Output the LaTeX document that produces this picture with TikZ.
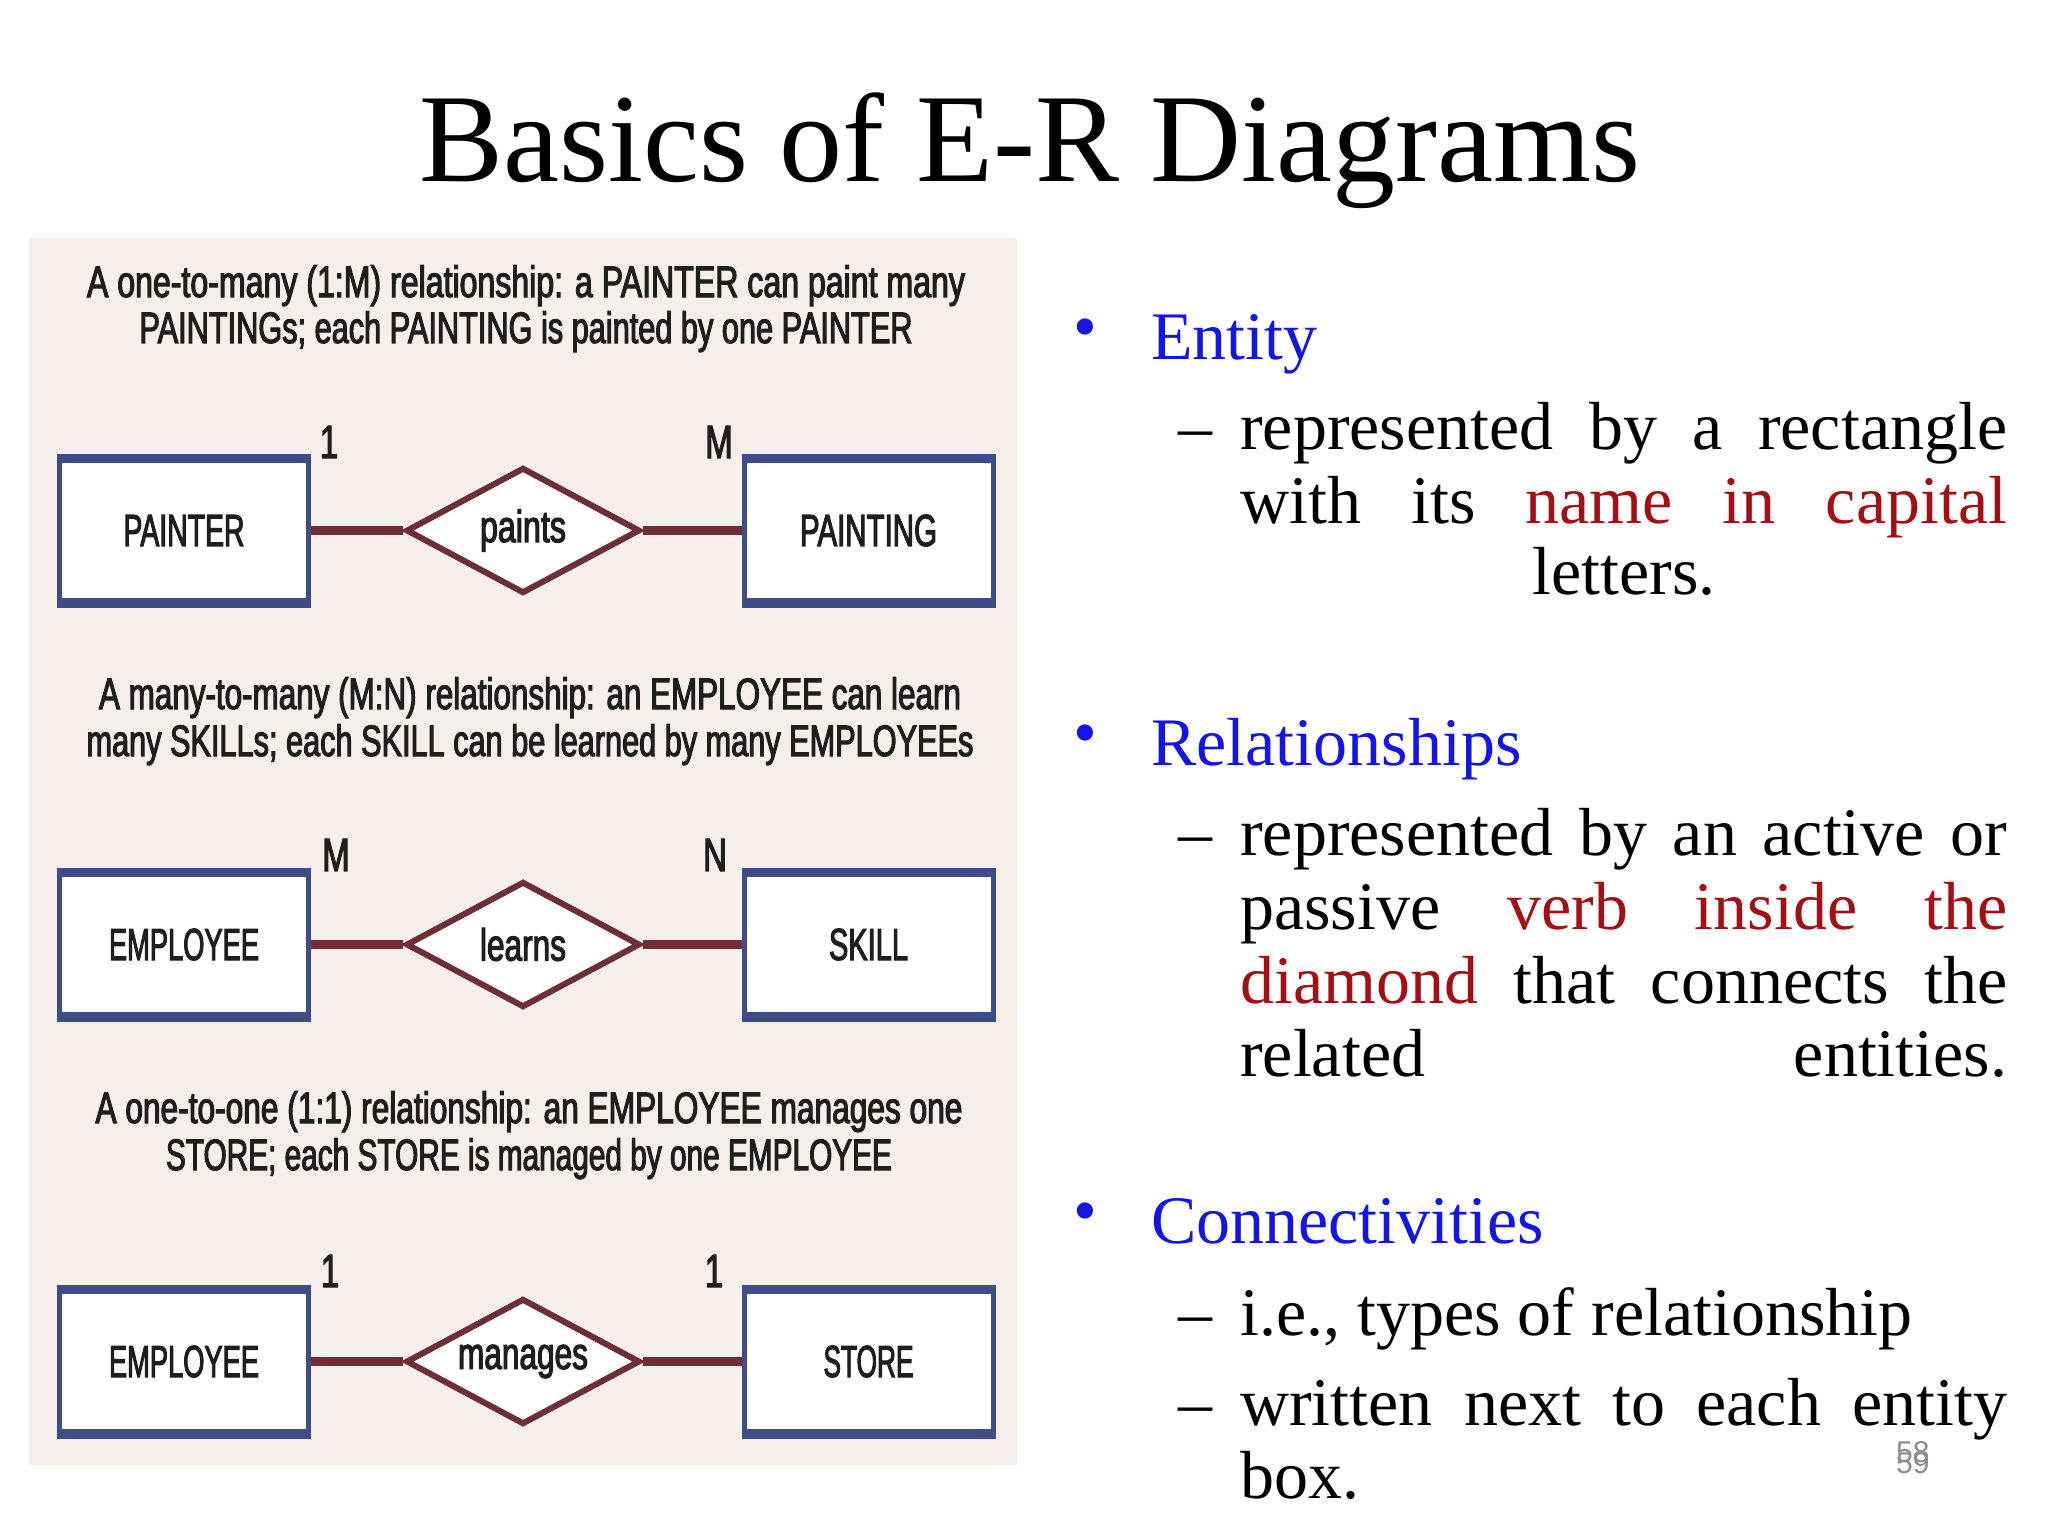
\documentclass[tikz,border=0pt]{standalone}
\usepackage{fontspec}
\usepackage{graphicx}
\setmainfont{Liberation Serif}
\newfontfamily\condfont[FakeStretch=0.7,FakeBold=2.4]{Liberation Sans}
\newfontfamily\pgfont{Liberation Sans}
\usetikzlibrary{shapes.geometric}
\definecolor{panelbg}{HTML}{F6EEEA}
\definecolor{boxblue}{HTML}{3F4C8A}
\definecolor{relred}{HTML}{6E2E36}
\definecolor{bulblue}{HTML}{1414E6}
\definecolor{hlred}{HTML}{A30F14}
\definecolor{pggray}{HTML}{8C8C8C}
\definecolor{captxt}{HTML}{1E1E1E}
\newcommand{\fitw}[2]{\resizebox{#1}{\height}{#2}}
\newcommand{\hl}[1]{\textcolor{hlred}{#1}}
\tikzset{
  entitybox/.style={draw=boxblue, line width=5pt, fill=white, minimum width=249pt,
    minimum height=140pt, inner sep=0pt, font=\condfont\fontsize{45}{50}\selectfont, text=captxt},
  relbox/.style={diamond, draw=relred, line width=6pt, fill=white, minimum width=234pt,
    minimum height=126pt, aspect=1.857, inner sep=0pt,
    font=\condfont\fontsize{45}{50}\selectfont, text=captxt},
  connline/.style={draw=relred, line width=9pt},
  edgebar/.style={draw=boxblue, line width=9pt},
  cardlbl/.style={font=\condfont\fontsize{47}{50}\selectfont, text=captxt, inner sep=0pt},
  captext/.style={font=\condfont\fontsize{44}{46}\selectfont, text=captxt, inner sep=0pt, anchor=base},
  bhead/.style={font=\fontsize{68}{74}\selectfont, text=bulblue, inner sep=0pt, anchor=base west},
  bdot/.style={font=\fontsize{68}{74}\selectfont, text=bulblue, inner sep=0pt},
  bbody/.style={font=\fontsize{68}{74}\selectfont, text=black, inner sep=0pt, anchor=base west},
  pgnum/.style={font=\pgfont\fontsize{30}{30}\selectfont, text=pggray, inner sep=0pt, anchor=north west}
}
\begin{document}
\begin{tikzpicture}[x=1pt,y=-1pt]
\useasboundingbox (0,0) rectangle (2048,1536);
\fill[white] (0,0) rectangle (2048,1536);
% title
\node[font=\fontsize{126}{130}\selectfont, inner sep=0pt, anchor=base] (title) at (1030,182) {Basics of E-R Diagrams};
% panel
\fill[panelbg] (29,238) rectangle (1017,1465);
% captions
\node[captext] (c11) at (526,297) {\fitw{878pt}{A one-to-many (1:M) relationship: a PAINTER can paint many}};
\node[captext] (c12) at (526,343) {\fitw{773pt}{PAINTINGs; each PAINTING is painted by one PAINTER}};
\node[captext] (c21) at (530,709) {\fitw{862pt}{A many-to-many (M:N) relationship: an EMPLOYEE can learn}};
\node[captext] (c22) at (530,756) {\fitw{887pt}{many SKILLs; each SKILL can be learned by many EMPLOYEEs}};
\node[captext] (c31) at (529,1123) {\fitw{867pt}{A one-to-one (1:1) relationship: an EMPLOYEE manages one}};
\node[captext] (c32) at (529,1170) {\fitw{726pt}{STORE; each STORE is managed by one EMPLOYEE}};
% row 1
\node[entitybox] (e1) at (184,530.5) {\fitw{121pt}{PAINTER}};
\node[entitybox] (f1) at (868.5,530.5) {\fitw{137pt}{PAINTING}};
\node[relbox] (r1) at (523,530.5) {\fitw{86pt}{paints}};
\draw[connline] (e1.east) -- (r1.west);
\draw[connline] (r1.east) -- (f1.west);
\node[cardlbl] (k11) at (329,442) {1};
\node[cardlbl] (k12) at (719,442) {M};
% row 2
\node[entitybox] (e2) at (184,944.5) {\fitw{150pt}{EMPLOYEE}};
\node[entitybox] (f2) at (868.5,944.5) {\fitw{79pt}{SKILL}};
\node[relbox] (r2) at (523,944.5) {\fitw{86pt}{learns}};
\draw[connline] (e2.east) -- (r2.west);
\draw[connline] (r2.east) -- (f2.west);
\node[cardlbl] (k21) at (336,855) {M};
\node[cardlbl] (k22) at (715,855) {N};
% row 3
\node[entitybox] (e3) at (184,1361.5) {\fitw{150pt}{EMPLOYEE}};
\node[entitybox] (f3) at (868.5,1361.5) {\fitw{90pt}{STORE}};
\node[relbox] (r3) at (523,1361.5) {\fitw{130pt}{manages}};
\draw[connline] (e3.east) -- (r3.west);
\draw[connline] (r3.east) -- (f3.west);
\node[cardlbl] (k31) at (330,1271) {1};
\node[cardlbl] (k32) at (714,1271) {1};
% thick top/bottom edges of entity boxes
\foreach \b in {e1,f1,e2,f2,e3,f3}{
  \draw[edgebar] (\b.north west) -- (\b.north east);
  \draw[edgebar] (\b.south west) -- (\b.south east);
}
% right column
\node[bdot] (b1) at (1085,334) {\textbullet};
\node[bhead] (h1) at (1151,359) {Entity};
\node[bbody] (d1) at (1178,449) {–};
\node[bbody] (l11) at (1240,449) {\makebox[767pt][s]{represented by a rectangle}};
\node[bbody] (l12) at (1240,523) {\makebox[767pt][s]{with its \hl{name} \hl{in} \hl{capital}}};
\node[bbody, anchor=base] (l13) at (1624,594) {letters.};

\node[bdot] (b2) at (1085,740) {\textbullet};
\node[bhead] (h2) at (1151,765) {Relationships};
\node[bbody] (d2) at (1178,855) {–};
\node[bbody] (l21) at (1240,855) {\makebox[767pt][s]{represented by an active or}};
\node[bbody] (l22) at (1240,929) {\makebox[767pt][s]{passive \hl{verb} \hl{inside} \hl{the}}};
\node[bbody] (l23) at (1240,1003) {\makebox[767pt][s]{\hl{diamond} that connects the}};
\node[bbody] (l24) at (1240,1076) {\makebox[767pt][s]{related entities.}};

\node[bdot] (b3) at (1085,1218) {\textbullet};
\node[bhead] (h3) at (1151,1243) {Connectivities};
\node[bbody] (d3) at (1178,1335) {–};
\node[bbody] (l31) at (1240,1335) {i.e., types of relationship};
\node[bbody] (d4) at (1178,1425) {–};
\node[bbody] (l41) at (1240,1425) {\makebox[767pt][s]{written next to each entity}};
\node[bbody] (l42) at (1240,1498) {box.};
% page number
\node[pgnum] (pg1) at (1896,1441) {58};
\node[pgnum] (pg2) at (1896,1452) {59};
\end{tikzpicture}
\end{document}
